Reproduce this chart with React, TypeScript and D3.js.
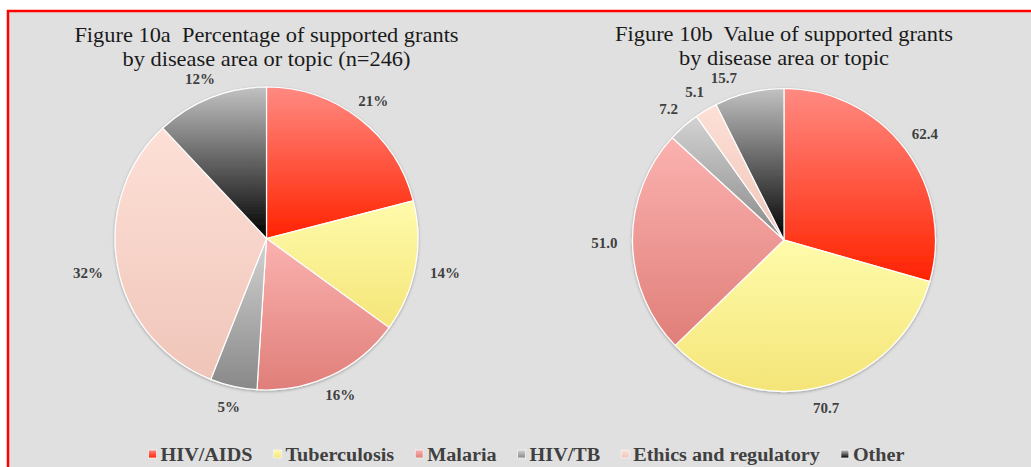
import React, { useEffect, useRef } from "react";
import * as d3 from "d3";

// categories shared by both pies and the legend
const categories = ["HIV/AIDS", "Tuberculosis", "Malaria", "HIV/TB", "Ethics and regulatory", "Other"];
// figure 10a: share of supported grants (%)
const grantShare = [21, 14, 16, 5, 32, 12];
// figure 10b: value of supported grants
const grantValue = [62.4, 70.7, 51.0, 7.2, 5.1, 15.7];

const titleA = ["Figure 10a  Percentage of supported grants", "by disease area or topic (n=246)"];
const titleB = ["Figure 10b  Value of supported grants", "by disease area or topic"];

// vertical gradient per slice, top -> bottom
const topColors = ["#ff8a82", "#fffbab", "#fbb2b0", "#d3d3d3", "#fde0d7", "#c2c2c2"];
const bottomColors = ["#ff2200", "#f4e578", "#e07e79", "#888888", "#f0c5b9", "#000000"];

const W = 1031;
const H = 467;
const R = 151.5;
const FONT = "'Liberation Serif', 'Times New Roman', serif";
const STRETCH = 1.12;

function App() {
  const ref = useRef<SVGSVGElement>(null);

  useEffect(() => {
    const svg = d3.select(ref.current);
    svg.selectAll("*").remove();

    const defs = svg.append("defs");
    categories.forEach((_, i) => {
      const g = defs
        .append("linearGradient")
        .attr("id", `grad${i}`)
        .attr("x1", 0)
        .attr("y1", 0)
        .attr("x2", 0)
        .attr("y2", 1);
      g.append("stop").attr("offset", "0%").attr("stop-color", topColors[i]);
      g.append("stop").attr("offset", "100%").attr("stop-color", bottomColors[i]);
    });
    defs
      .append("filter")
      .attr("id", "pieShadow")
      .attr("x", "-10%")
      .attr("y", "-10%")
      .attr("width", "120%")
      .attr("height", "120%")
      .append("feDropShadow")
      .attr("dx", 0)
      .attr("dy", 1)
      .attr("stdDeviation", 1.6)
      .attr("flood-color", "#000")
      .attr("flood-opacity", 0.3);

    // background panel with red frame
    svg.append("rect").attr("width", W).attr("height", H).attr("fill", "#ffffff");
    svg
      .append("rect")
      .attr("x", 8)
      .attr("y", 11)
      .attr("width", W + 10)
      .attr("height", H + 10)
      .attr("fill", "#e0e0e0")
      .attr("stroke", "#ff0000")
      .attr("stroke-width", 2.5);

    const pie = d3
      .pie<number>()
      .sort(null)
      .value((d) => d);
    const arc = d3.arc<d3.PieArcDatum<number>>().innerRadius(0).outerRadius(R);

    function drawPie(
      cx: number,
      cy: number,
      values: number[],
      fmt: (v: number, total: number) => string,
      title: string[],
      titleY: number
    ) {
      const total = d3.sum(values);

      const t = svg
        .append("text")
        .attr("text-anchor", "middle")
        .attr("font-family", FONT)
        .attr("font-size", 20)
        .attr("fill", "#1a1a1a")
        .style("white-space", "pre")
        .attr("transform", `translate(${cx},0) scale(${STRETCH},1)`);
      title.forEach((line, i) => {
        t.append("tspan").attr("x", 0).attr("y", titleY + i * 24).text(line);
      });
      // bottom of the title block, labels are kept below it
      const titleBottom = titleY + 24 + 4.5;

      const g = svg.append("g").attr("transform", `translate(${cx},${cy})`);
      const arcs = pie(values);
      g.append("g")
        .attr("filter", "url(#pieShadow)")
        .selectAll("path")
        .data(arcs)
        .enter()
        .append("path")
        .attr("d", arc)
        .attr("fill", (_, i) => `url(#grad${i})`)
        .attr("stroke", "#ffffff")
        .attr("stroke-width", 1.2);

      // data labels just outside the slice edge
      arcs.forEach((d, i) => {
        let a = (d.startAngle + d.endAngle) / 2;
        const label = g
          .append("text")
          .attr("text-anchor", "middle")
          .attr("font-family", FONT)
          .attr("font-weight", "bold")
          .attr("font-size", 15)
          .attr("fill", "#404040")
          .attr("dy", "0.35em")
          .text(fmt(values[i], total));
        const hw = (label.node() as SVGTextElement).getBBox().width / 2;
        const hh = 6;
        const place = (ang: number) => {
          const ux = Math.sin(ang);
          const uy = -Math.cos(ang);
          const ext = Math.min(
            Math.abs(ux) > 1e-6 ? hw / Math.abs(ux) : Infinity,
            Math.abs(uy) > 1e-6 ? hh / Math.abs(uy) : Infinity
          );
          const dist = R + 15 + ext;
          return [ux * dist, uy * dist];
        };
        let [lx, ly] = place(a);
        // slide along the ring, away from 12 o'clock, while it would touch the title
        const step = ((Math.sin(a) < 0 ? -1 : 1) * 0.5 * Math.PI) / 180;
        let guard = 0;
        while (cy + ly - 8 < titleBottom && guard < 60) {
          a += step;
          [lx, ly] = place(a);
          guard++;
        }
        label.attr("x", lx).attr("y", ly);
      });
    }

    drawPie(266.5, 238.5, grantShare, (v, total) => d3.format(".0%")(v / total), titleA, 42);
    drawPie(784, 240, grantValue, (v) => d3.format(".1f")(v), titleB, 41);

    // legend, laid out from measured text widths
    const legend = svg.append("g");
    const items = categories.map((name, i) => {
      const item = legend.append("g");
      item
        .append("rect")
        .attr("y", -11)
        .attr("width", 8)
        .attr("height", 8)
        .attr("fill", `url(#grad${i})`)
        .attr("stroke", "#f4f4f4")
        .attr("stroke-width", 0.8);
      const txt = item
        .append("text")
        .attr("font-family", FONT)
        .attr("font-weight", "bold")
        .attr("font-size", 18)
        .attr("fill", "#404040")
        .text(name);
      const w = (txt.node() as SVGTextElement).getComputedTextLength() * STRETCH;
      txt.attr("textLength", w).attr("lengthAdjust", "spacingAndGlyphs").attr("x", 12);
      return { item, width: 12 + w };
    });
    const gap = 21;
    const totalW = d3.sum(items, (d) => d.width) + gap * (items.length - 1);
    let x = 526.5 - totalW / 2;
    items.forEach((d) => {
      d.item.attr("transform", `translate(${x},461)`);
      x += d.width + gap;
    });
  }, []);

  return (
    <svg
      ref={ref}
      width={W}
      height={H}
      style={{ position: "absolute", left: 0, top: 0, display: "block" }}
    />
  );
}

export default App;
